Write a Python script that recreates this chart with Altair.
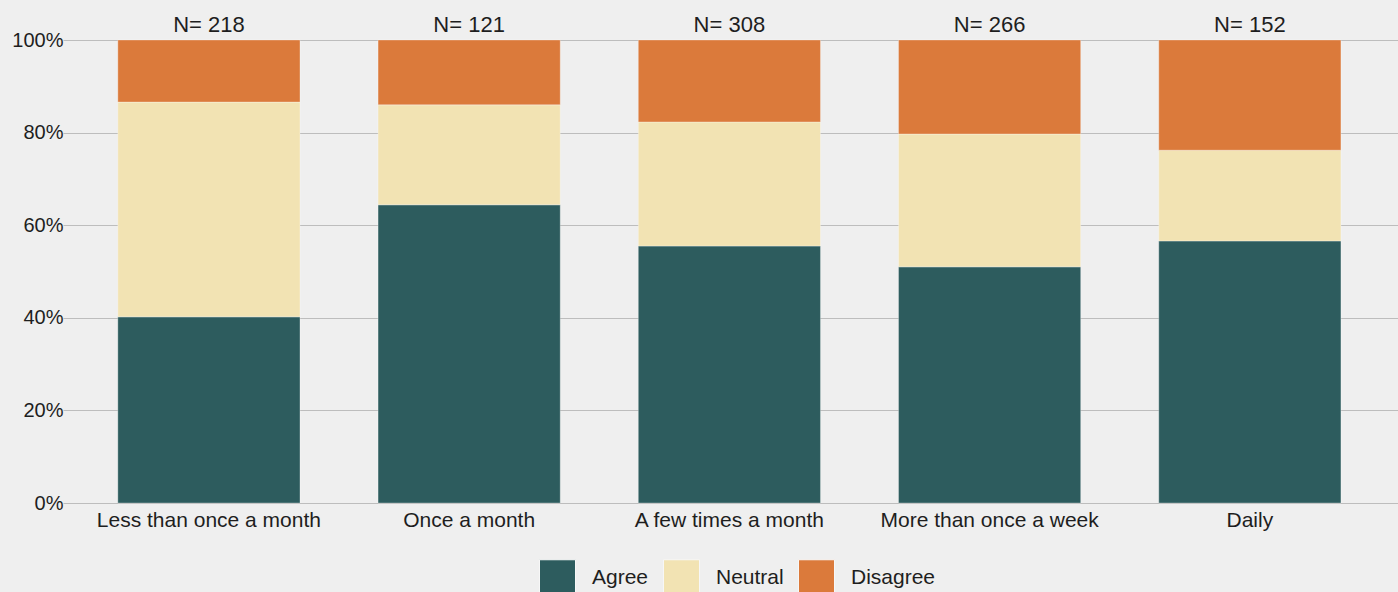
import altair as alt
import pandas as pd

# Survey responses by usage frequency (percent of respondents)
frequencies = ["Less than once a month", "Once a month", "A few times a month",
               "More than once a week", "Daily"]
sample_sizes = [218, 121, 308, 266, 152]
agree = [40.2, 64.4, 55.5, 51.0, 56.6]
neutral = [46.4, 21.6, 26.8, 28.7, 19.6]
disagree = [13.4, 14.0, 17.7, 20.3, 23.8]

responses = ["Agree", "Neutral", "Disagree"]
colors = ["#2d5c5e", "#f2e3b3", "#db7a3b"]

rows = []
for i, freq in enumerate(frequencies):
    for k, (resp, vals) in enumerate(zip(responses, [agree, neutral, disagree])):
        rows.append({"frequency": freq, "response": resp, "order": k, "pct": vals[i]})
df = pd.DataFrame(rows)

labels = pd.DataFrame({
    "frequency": frequencies,
    "label": [f"N= {n}" for n in sample_sizes],
    "top": [100] * len(frequencies),
})

FONT = "Liberation Sans"
TEXT = "#1e1e1e"

x_enc = alt.X(
    "frequency:N", sort=frequencies, title=None,
    scale=alt.Scale(paddingInner=0.3, paddingOuter=0.215, align=0.49),
    axis=alt.Axis(labelAngle=0, labelFontSize=21, labelColor=TEXT, labelFont=FONT,
                  labelLimit=0, ticks=False, domain=False, labelPadding=6, grid=False),
)

bars = alt.Chart(df).mark_bar(stroke="#ffffff", strokeWidth=0.6, strokeOpacity=0.5).encode(
    x=x_enc,
    y=alt.Y(
        "pct:Q", stack="zero", title=None,
        scale=alt.Scale(domain=[0, 100], nice=False),
        axis=alt.Axis(values=[0, 20, 40, 60, 80, 100], labelExpr="datum.value + '%'",
                      labelFontSize=20, labelColor=TEXT, labelFont=FONT,
                      ticks=False, domain=False, labelPadding=0,
                      grid=True, gridColor="#bdbdbd", gridWidth=1.2),
    ),
    color=alt.Color(
        "response:N", sort=responses, title=None,
        scale=alt.Scale(domain=responses, range=colors),
        legend=alt.Legend(orient="none", legendX=476, legendY=519, direction="horizontal",
                          symbolType="square", symbolSize=1296, symbolStrokeColor="#f7f7f7",
                          symbolStrokeWidth=1, labelFontSize=21, labelFont=FONT,
                          labelColor=TEXT, labelOffset=16, columnPadding=12, padding=0),
    ),
    order=alt.Order("order:Q"),
)

counts = alt.Chart(labels).mark_text(
    baseline="alphabetic", dy=-8, fontSize=22, font=FONT, color=TEXT
).encode(
    x=alt.X("frequency:N", sort=frequencies),
    y=alt.Y("top:Q"),
    text="label:N",
)

chart = (
    alt.layer(bars, counts)
    .properties(
        width=1335, height=463, background="#efefef",
        padding={"left": 63, "top": 40, "right": 0, "bottom": 89},
        autosize=alt.AutoSizeParams(type="none"),
    )
    .configure_view(stroke=None)
)

chart.save("out.html", embed_options={"renderer": "svg", "actions": False})
